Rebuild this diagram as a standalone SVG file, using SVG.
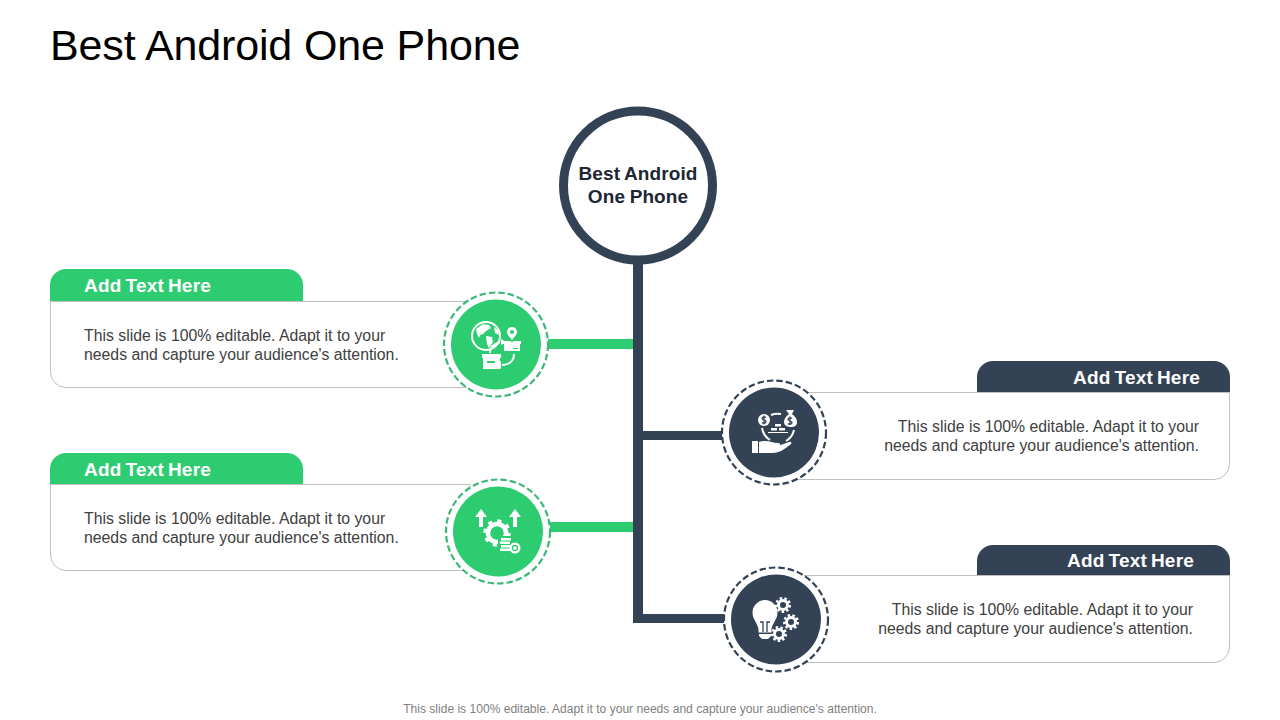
<svg xmlns="http://www.w3.org/2000/svg" width="1280" height="720" viewBox="0 0 1280 720">
<style>
text{font-family:"Liberation Sans",Arial,sans-serif}
.title{font-size:43px;letter-spacing:-0.14px;fill:#000}
.hub{font-size:19px;font-weight:700;fill:#1d2733;text-anchor:middle;word-spacing:-0.800px;letter-spacing:.1px}
.head{font-size:19px;font-weight:700;fill:#fff;word-spacing:-1.500px;letter-spacing:.2px}
.body{font-size:15.800px;fill:#404040}
.foot{font-size:12.070px;fill:#7f7f7f;text-anchor:middle}
.end{text-anchor:end}
.card{fill:#fff;stroke:#bfbfbf;stroke-width:1}
.g{fill:#2ecc71}.n{fill:#344256}
.ring{fill:#fff;stroke-width:2.200;stroke-dasharray:6.500 3}
.ic{fill:#fff}
.il{fill:none;stroke:#fff;stroke-width:2}
.ig{fill:#2ecc71}.in{fill:#344256}
.dollar{fill:none;stroke:#344256;stroke-width:1.300}
</style>
<rect width="1280" height="720" fill="#fff"/>
<text class="title" x="50" y="60">Best Android One Phone</text>

<g id="connectors">
<rect class="n" x="633" y="250" width="10" height="373"/>
<rect class="g" x="548" y="339" width="85" height="10"/>
<rect class="g" x="550" y="522" width="83" height="10"/>
<rect class="n" x="643" y="431" width="82" height="9"/>
<rect class="n" x="643" y="614" width="84" height="9"/>
</g>

<g id="hub">
<circle cx="638" cy="185.500" r="74.500" fill="#fff" stroke="#344256" stroke-width="9"/>
<text class="hub" x="638" y="180">Best Android</text>
<text class="hub" x="638" y="203">One Phone</text>
</g>

<g id="card-left-1">
<path class="card" d="M50.500 301.500H470V387.500H66a15.500 15.500 0 0 1-15.500-15.500Z"/>
<path class="g" d="M50 301V285a16 16 0 0 1 16-16H287a16 16 0 0 1 16 16V301Z"/>
<text class="head" x="84" y="292">Add Text Here</text>
<text class="body" x="84" y="341">This slide is 100% editable. Adapt it to your</text>
<text class="body" x="84" y="360">needs and capture your audience's attention.</text>
<circle class="ring" cx="496" cy="344.500" r="52" stroke="#3cb878"/>
<circle class="g" cx="496" cy="344.500" r="45"/>
<g id="icon-globe">
<circle class="il" cx="486" cy="336" r="14"/>
<path class="ic" d="M476 329l7-5 6 1 2 3-5 3-3 3-3 1-1 3-2-4ZM486 336l6 1 1 5-4 6-2-4Z"/>
<path class="ic" d="M494 327l4 3 1 5-4-2Z"/>
<path class="ic" d="M482 354h19v4h-1v11h-17v-11h-1Z"/>
<path class="ig" d="M487 361h8v2h-8Z"/>
<path class="ic" d="M503 341h8l1 2 1-2h8v3h-1v7h-16v-7h-1Z"/>
<path class="ig" d="M513 348h5v1h-5Z"/>
<path class="ic" d="M512 327a5 5 0 0 1 5 5c0 3-3 5-5 8-2-3-5-5-5-8a5 5 0 0 1 5-5Z"/>
<circle class="ig" cx="512" cy="332" r="2"/>
<path class="il" stroke-width="1.500" d="M514 354c0 7-5 11-12 11M490 353c0-5 3-9 10-11"/>
<path class="ic" d="M501 361v8l-5-4ZM501 339l5 3-5 3Z"/>
</g>
</g>

<g id="card-left-2">
<path class="card" d="M50.500 484.500H470V570.500H66a15.500 15.500 0 0 1-15.500-15.500Z"/>
<path class="g" d="M50 484V469a16 16 0 0 1 16-16H287a16 16 0 0 1 16 16V484Z"/>
<text class="head" x="84" y="476">Add Text Here</text>
<text class="body" x="84" y="524">This slide is 100% editable. Adapt it to your</text>
<text class="body" x="84" y="543">needs and capture your audience's attention.</text>
<circle class="ring" cx="498" cy="531.500" r="52" stroke="#3cb878"/>
<circle class="g" cx="498" cy="531.500" r="45"/>
<g id="icon-gear">
<path class="ic" d="M481 509l6 8h-4v10h-4v-10h-4ZM515 509l6 8h-4v10h-4v-10h-4Z"/>
<circle cx="497" cy="533" r="9" fill="none" stroke="#fff" stroke-width="4.500"/>
<circle cx="497" cy="533" r="12" fill="none" stroke="#fff" stroke-width="3.500" stroke-dasharray="4 5.420"/>
<path class="ig" d="M498 536h15v19h-15Z"/>
<path class="ic" d="M501 538h10v2.500h-10ZM500 541.500h10v2.500h-10ZM501 545h10v2.500h-10ZM500 548.500h10v2.500h-10Z"/>
<circle class="ic" cx="515" cy="548" r="5.500"/>
<circle cx="515" cy="548" r="2.500" fill="none" stroke="#2ecc71" stroke-width="1.300"/>
</g>
</g>

<g id="card-right-1">
<path class="card" d="M790 392.500H1229.500V464a15.500 15.500 0 0 1-15.500 15.500H790Z"/>
<path class="n" d="M977 392V377a16 16 0 0 1 16-16H1214a16 16 0 0 1 16 16V392Z"/>
<text class="head end" x="1200" y="384">Add Text Here</text>
<text class="body end" x="1199" y="432">This slide is 100% editable. Adapt it to your</text>
<text class="body end" x="1199" y="451">needs and capture your audience's attention.</text>
<circle class="ring" cx="774" cy="432.500" r="52" stroke="#344256"/>
<circle class="n" cx="774" cy="432.500" r="45"/>
<g id="icon-money">
<circle class="ic" cx="764" cy="420" r="6"/>
<path class="dollar" d="M766 417.500c-1-1-4-1-4 .8s4 1.400 4 3.400-3 1.800-4 .8M764 415.500v9"/>
<path class="ic" d="M786 410h8l-2 4c3 2 5 5 5 8 0 4-3 5-6 5s-7-1-7-5c0-3 2-6 5-8Z"/>
<path class="dollar" d="M792 418.500c-1-1-4-1-4 .8s4 1.400 4 3.400-3 1.800-4 .8M790 416.500v8"/>
<path class="il" stroke-width="1.300" d="M771 415a18 18 0 0 1 10-1M762 428a17 17 0 0 0 8 12M794 430a17 17 0 0 1-8 11"/>
<path class="ic" d="M775 424h6v2.500h-6ZM771 428h6v2.500h-6ZM779 428h6v2.500h-6ZM768 432h20v1h-20Z"/>
<path class="ic" d="M752 441h6v12h-6ZM759 442c8-3 13 1 19 1 3 0 3 3 0 3l11-4c2-1 3 1 2 2-6 5-12 9-18 9h-14Z"/>
</g>
</g>

<g id="card-right-2">
<path class="card" d="M790 575.500H1229.500V647a15.500 15.500 0 0 1-15.500 15.500H790Z"/>
<path class="n" d="M977 575V561a16 16 0 0 1 16-16H1214a16 16 0 0 1 16 16V575Z"/>
<text class="head end" x="1194" y="567">Add Text Here</text>
<text class="body end" x="1193" y="615">This slide is 100% editable. Adapt it to your</text>
<text class="body end" x="1193" y="634">needs and capture your audience's attention.</text>
<circle class="ring" cx="776" cy="619.500" r="52" stroke="#344256"/>
<circle class="n" cx="776" cy="619.500" r="45"/>
<g id="icon-bulb">
<path class="ic" d="M765 600a12.500 12.500 0 0 1 12.500 12.500c0 7-5 10-6 17v3h-13v-3c-1-7-6-10-6-17a12.500 12.500 0 0 1 12.500-12.500Z"/>
<path class="ic" d="M759 634h12v2l-3 3h-6l-3-3Z"/>
<path fill="none" stroke="#344256" stroke-width="1.300" d="M763 632v-10h-3M767 632v-10h3"/>
<g fill="none" stroke="#fff" stroke-width="3">
<circle cx="783" cy="605" r="4.500"/><circle cx="791" cy="622" r="4.500"/><circle cx="779" cy="634" r="4.500"/>
</g>
<g fill="none" stroke="#fff" stroke-width="2.500" stroke-dasharray="2.500 2.210">
<circle cx="783" cy="605" r="6.750"/><circle cx="791" cy="622" r="6.750"/><circle cx="779" cy="634" r="6.750"/>
</g>
</g>
</g>

<text class="foot" x="640" y="713">This slide is 100% editable. Adapt it to your needs and capture your audience's attention.</text>
</svg>
